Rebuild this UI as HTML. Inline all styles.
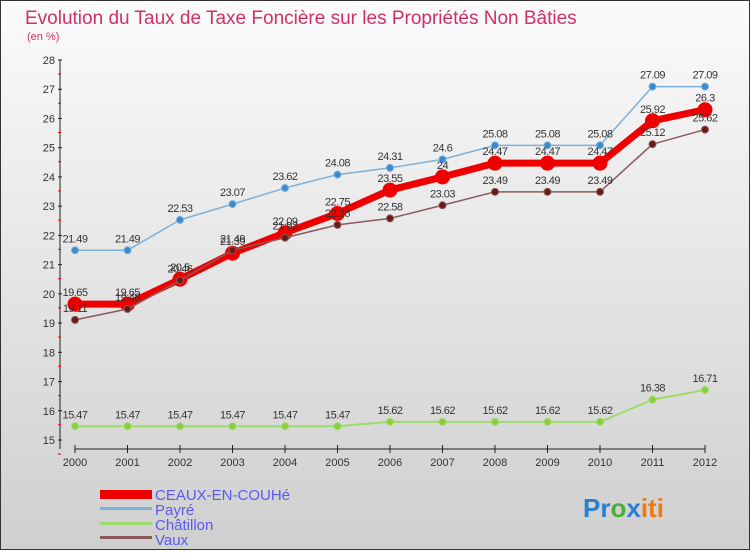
<!DOCTYPE html>
<html><head><meta charset="utf-8"><style>
body{margin:0;width:750px;height:550px;overflow:hidden;font-family:"Liberation Sans",sans-serif}
svg text{font-family:"Liberation Sans",sans-serif}
</style></head><body>
<svg id="c" width="750" height="550" xmlns="http://www.w3.org/2000/svg">
<defs><linearGradient id="bg" x1="0" y1="0" x2="0" y2="1"><stop offset="0" stop-color="#fbfbfb"/><stop offset="1" stop-color="#cfcfcf"/></linearGradient></defs>
<rect x="0.5" y="0.5" width="749" height="549" fill="url(#bg)" stroke="#333"/>
<text x="25" y="24" font-size="19" fill="#d0306a">Evolution du Taux de Taxe Foncière sur les Propriétés Non Bâties</text>
<text x="27" y="40" font-size="11" fill="#d0306a">(en %)</text>
<g id="axes"></g><g id="series"></g>
<g>
<rect x="100" y="490" width="52" height="9" fill="#e00"/>
<text x="155" y="500" font-size="15" fill="#5a5af0">CEAUX-EN-COUHé</text>
<rect x="100" y="507" width="52" height="3" fill="#7fb0d8"/>
<text x="155" y="515" font-size="15" fill="#5a5af0">Payré</text>
<rect x="100" y="522" width="52" height="3" fill="#9ddc6a"/>
<text x="155" y="530" font-size="15" fill="#5a5af0">Châtillon</text>
<rect x="100" y="536" width="52" height="3" fill="#8a5a5a"/>
<text x="155" y="545" font-size="15" fill="#5a5af0">Vaux</text>
</g>
<text x="583" y="517" font-size="26" font-weight="bold"><tspan fill="#2a7fd0">Pr</tspan><tspan fill="#4caf3a">o</tspan><tspan fill="#2a7fd0">x</tspan><tspan fill="#f07a10">iti</tspan></text>
</svg>
<script>
const years=[2000,2001,2002,2003,2004,2005,2006,2007,2008,2009,2010,2011,2012];
const yTicks=[15,16,17,18,19,20,21,22,23,24,25,26,27,28];
const ceaux=[19.65,19.65,20.5,21.39,22.09,22.75,23.55,24,24.47,24.47,24.47,25.92,26.3];
const payre=[21.49,21.49,22.53,23.07,23.62,24.08,24.31,24.6,25.08,25.08,25.08,27.09,27.09];
const chatillon=[15.47,15.47,15.47,15.47,15.47,15.47,15.62,15.62,15.62,15.62,15.62,16.38,16.71];
const vaux=[19.11,19.48,20.46,21.49,21.92,22.36,22.58,23.03,23.49,23.49,23.49,25.12,25.62];
const NS="http://www.w3.org/2000/svg";
const x=i=>75+i*52.5, y=v=>60+(28-v)*(380/13);
function mk(t,a,p){const e=document.createElementNS(NS,t);for(const k in a)e.setAttribute(k,a[k]);p.appendChild(e);return e;}
const ax=document.getElementById('axes');
let l=mk('line',{x1:60,y1:60,x2:60,y2:449,stroke:'#222'},ax);


l=mk('line',{x1:75,y1:449,x2:705,y2:449,stroke:'#222'},ax);


yTicks.forEach(v=>{const t=mk('text',{x:55,y:y(v)+4,'font-size':11,'text-anchor':'end',fill:'#333'},ax);t.textContent=v;


mk('line',{x1:58,y1:y(v),x2:62,y2:y(v),stroke:'#222'},ax);
mk('line',{x1:58,y1:y(v)+14,x2:61,y2:y(v)+14,stroke:'#e00'},ax);});
years.forEach((yr,i)=>{mk('line',{x1:x(i),y1:445,x2:x(i),y2:453,stroke:'#222'},ax);
const t=mk('text',{x:x(i),y:466,'font-size':11,'text-anchor':'middle',fill:'#333'},ax);t.textContent=yr;

});
const sg=document.getElementById('series');
function draw(vals,name,color,w,r,dot){const g=mk('g',{},sg);


const p=mk('polyline',{points:vals.map((v,i)=>x(i)+','+y(v)).join(' '),fill:'none',stroke:color,'stroke-width':w,'stroke-linejoin':'round'},g);


vals.forEach((v,i)=>{const c=mk('circle',{cx:x(i),cy:y(v),r:r,fill:dot,stroke:color,'stroke-width':1},g);


const t=mk('text',{x:x(i),y:y(v)-8,'font-size':11,'text-anchor':'middle',fill:'#333','letter-spacing':'-0.5'},g);t.textContent=v;

});}
draw(chatillon,'chatillon','#9ddc6a',2,3.5,'#8ccc40');
draw(payre,'payre','#7fb0d8',1.5,3.5,'#3a8ad0');
draw(ceaux,'ceaux','#e00',7,7,'#e00');
draw(vaux,'vaux','#8a5a5a',1.5,3.5,'#6a1a1a');
</script>
</body></html>
